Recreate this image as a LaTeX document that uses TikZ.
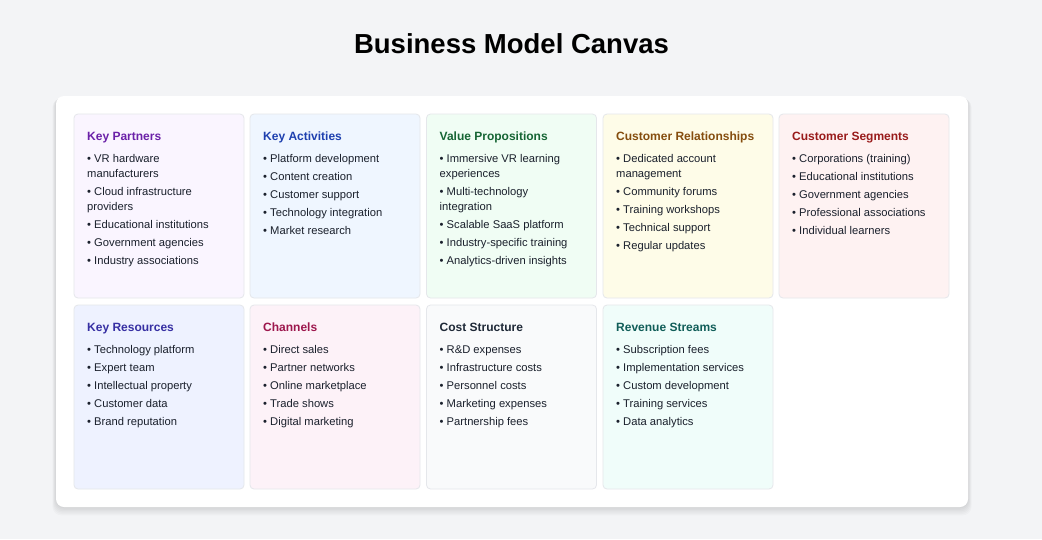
\documentclass[tikz,border=0pt]{standalone}
\usepackage{xcolor}
\usepackage{fontspec}
\setmainfont{Liberation Sans}
\usepackage{tikz}
\usetikzlibrary{positioning}
\definecolor{pageBg}{HTML}{F3F4F6}
\definecolor{itemText}{HTML}{1A202C}
\definecolor{blockLine}{HTML}{E5E7EB}
\definecolor{kpFill}{HTML}{FAF5FF}\definecolor{kpText}{HTML}{6B21A8}
\definecolor{kaFill}{HTML}{EFF6FF}\definecolor{kaText}{HTML}{1E40AF}
\definecolor{vpFill}{HTML}{F0FDF4}\definecolor{vpText}{HTML}{166534}
\definecolor{crFill}{HTML}{FEFCE8}\definecolor{crText}{HTML}{854D0E}
\definecolor{csFill}{HTML}{FEF2F2}\definecolor{csText}{HTML}{991B1B}
\definecolor{krFill}{HTML}{EEF2FF}\definecolor{krText}{HTML}{3730A3}
\definecolor{chFill}{HTML}{FDF2F8}\definecolor{chText}{HTML}{9D174D}
\definecolor{coFill}{HTML}{F9FAFB}\definecolor{coText}{HTML}{1F2937}
\definecolor{rsFill}{HTML}{F0FDFA}\definecolor{rsText}{HTML}{115E59}
\newcommand{\canvasBlock}[7][theBlock]{%
  % #1 the name of the block node
  % #2 x of the top left corner
  % #3 y of the top left corner
  % #4 fill color (e.g., kpFill)
  % #5 heading color (e.g., kpText)
  % #6 the heading
  % #7 the items, \\ between lines
  \node[blockbox,fill=#4] (#1) at (#2,#3) {};%
  \node[blockhead,text=#5] (#1-head) %
    at ([xshift=13pt,yshift=-26pt]#1.north west) {#6};%
  \node[blockitems] (#1-items) %
    at ([xshift=13pt,yshift=-40.5pt]#1.north west) {\vphantom{Ag}#7};%
}
\newcommand{\nxt}{\\[3pt]\textbullet\ }

\begin{document}
\begin{tikzpicture}[x=1pt,y=-1pt,
    blockbox/.style={draw=blockLine,line width=.8pt,rounded corners=4pt,
      anchor=north west,minimum width=170pt,minimum height=184pt,
      inner sep=0pt,outer sep=0pt},
    blockhead/.style={anchor=base west,inner sep=0pt,
      font=\fontsize{12}{14}\selectfont\bfseries},
    blockitems/.style={anchor=north west,inner sep=0pt,align=left,
      text=itemText,font=\fontsize{11.2}{15}\selectfont}]
  \fill[pageBg] (0,0) rectangle (1042,539);
  \useasboundingbox (0,0) rectangle (1042,539);
  \node[anchor=base,inner sep=0pt,font=\fontsize{27.5}{30}\selectfont\bfseries]
    (title) at (511.5,53) {Business Model Canvas};
  % card with a soft shadow
  \foreach \s in {1,...,6}
    \fill[black,opacity=.02,rounded corners=9pt]
      (56-\s*.6,96+\s*.4) rectangle (968+\s*.6,507+\s*1.4);
  \fill[white,rounded corners=8pt] (56,96) rectangle (968,507) coordinate (card);
  % first row
  \canvasBlock[kp]{74}{114}{kpFill}{kpText}{Key Partners}{%
    \textbullet\ VR hardware\\manufacturers\nxt Cloud infrastructure\\providers%
    \nxt Educational institutions\nxt Government agencies\nxt Industry associations}
  \canvasBlock[ka]{250}{114}{kaFill}{kaText}{Key Activities}{%
    \textbullet\ Platform development\nxt Content creation\nxt Customer support%
    \nxt Technology integration\nxt Market research}
  \canvasBlock[vp]{426.5}{114}{vpFill}{vpText}{Value Propositions}{%
    \textbullet\ Immersive VR learning\\experiences\nxt Multi-technology\\integration%
    \nxt Scalable SaaS platform\nxt Industry-specific training%
    \nxt Analytics-driven insights}
  \canvasBlock[cr]{603}{114}{crFill}{crText}{Customer Relationships}{%
    \textbullet\ Dedicated account\\management\nxt Community forums%
    \nxt Training workshops\nxt Technical support\nxt Regular updates}
  \canvasBlock[cs]{779}{114}{csFill}{csText}{Customer Segments}{%
    \textbullet\ Corporations (training)\nxt Educational institutions%
    \nxt Government agencies\nxt Professional associations\nxt Individual learners}
  % second row
  \canvasBlock[kr]{74}{305}{krFill}{krText}{Key Resources}{%
    \textbullet\ Technology platform\nxt Expert team\nxt Intellectual property%
    \nxt Customer data\nxt Brand reputation}
  \canvasBlock[ch]{250}{305}{chFill}{chText}{Channels}{%
    \textbullet\ Direct sales\nxt Partner networks\nxt Online marketplace%
    \nxt Trade shows\nxt Digital marketing}
  \canvasBlock[co]{426.5}{305}{coFill}{coText}{Cost Structure}{%
    \textbullet\ R\&D expenses\nxt Infrastructure costs\nxt Personnel costs%
    \nxt Marketing expenses\nxt Partnership fees}
  \canvasBlock[rs]{603}{305}{rsFill}{rsText}{Revenue Streams}{%
    \textbullet\ Subscription fees\nxt Implementation services\nxt Custom development%
    \nxt Training services\nxt Data analytics}
\end{tikzpicture}
\end{document}
